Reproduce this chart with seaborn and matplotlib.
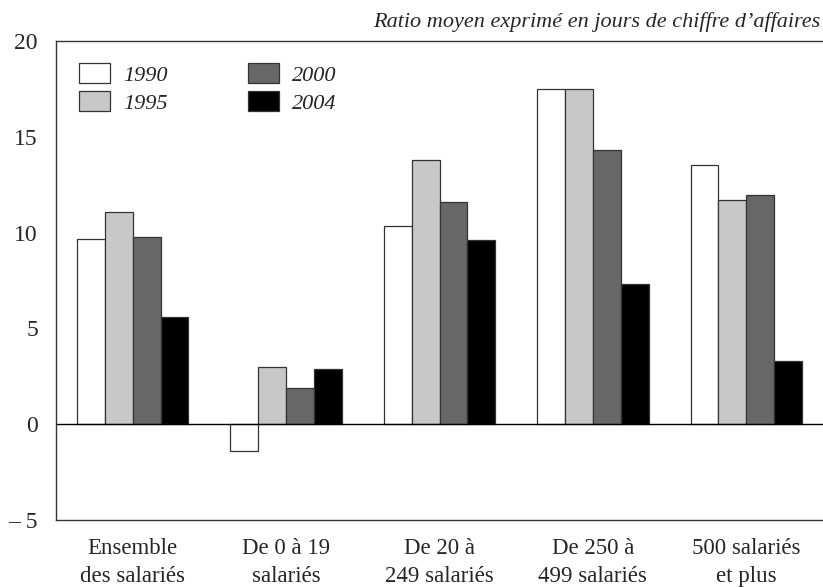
import pandas as pd
import matplotlib.pyplot as plt
import seaborn as sns
from matplotlib.patches import Patch

categories = ['Ensemble\ndes salariés', 'De 0 à 19\nsalariés', 'De 20 à\n249 salariés',
              'De 250 à\n499 salariés', '500 salariés\net plus']
years = ['1990', '1995', '2000', '2004']
v1990 = [9.65, -1.4, 10.35, 17.5, 13.55]
v1995 = [11.05, 3.0, 13.8, 17.5, 11.7]
v2000 = [9.75, 1.9, 11.6, 14.3, 11.95]
v2004 = [5.6, 2.9, 9.6, 7.3, 3.3]
colors = ['#ffffff', '#c8c8c8', '#676767', '#000000']
yticks = [-5, 0, 5, 10, 15, 20]
yticklabels = ['– 5', '0', '5', '10', '15', '20']

rows = []
for y, vals in zip(years, [v1990, v1995, v2000, v2004]):
    for c, v in zip(categories, vals):
        rows.append({'cat': c, 'year': y, 'val': v})
df = pd.DataFrame(rows)

sns.set_theme(style='white')
plt.rcParams['font.family'] = ['Liberation Serif', 'DejaVu Serif']

fig = plt.figure(figsize=(8.23, 5.87), dpi=100)
ax = fig.add_axes([56 / 823, 67 / 587, 767 / 823, 479 / 587])

sns.barplot(data=df, x='cat', y='val', hue='year', palette=colors, order=categories,
            hue_order=years, width=0.725, edgecolor='#333333', linewidth=0.9,
            legend=False, ax=ax)

ax.axhline(0, color='black', linewidth=1.0)
ax.set_ylim(-5, 20)
ax.set_xlim(-0.5, 4.5)
ax.set_yticks(yticks)
ax.set_yticklabels(yticklabels, fontsize=17)
ax.tick_params(axis='y', direction='in', length=7, width=0.8, color='#333333', pad=13)
ax.tick_params(axis='x', length=0, pad=13)
for lab in ax.get_xticklabels():
    lab.set_fontsize(16.5)
    lab.set_linespacing(1.45)
ax.set_xlabel('')
ax.set_ylabel('')
for s in ['left', 'bottom', 'top']:
    ax.spines[s].set_color('#333333')
    ax.spines[s].set_linewidth(1.0)
ax.spines['right'].set_visible(False)

handles = [Patch(facecolor=c, edgecolor='#333333', linewidth=0.9) for c in colors]
ax.legend(handles, years, ncol=2, loc='upper left', bbox_to_anchor=(0.030, 0.954),
          frameon=False, borderaxespad=0, borderpad=0, handlelength=1.4,
          handleheight=1.0, handletextpad=0.6, columnspacing=3.6, labelspacing=0.25,
          prop={'style': 'italic', 'size': 16})

fig.text(0.997, 1 - 22 / 587, 'Ratio moyen exprimé en jours de chiffre d’affaires',
         ha='right', va='center', fontsize=16, style='italic')

fig.savefig('out.png', dpi=100)
